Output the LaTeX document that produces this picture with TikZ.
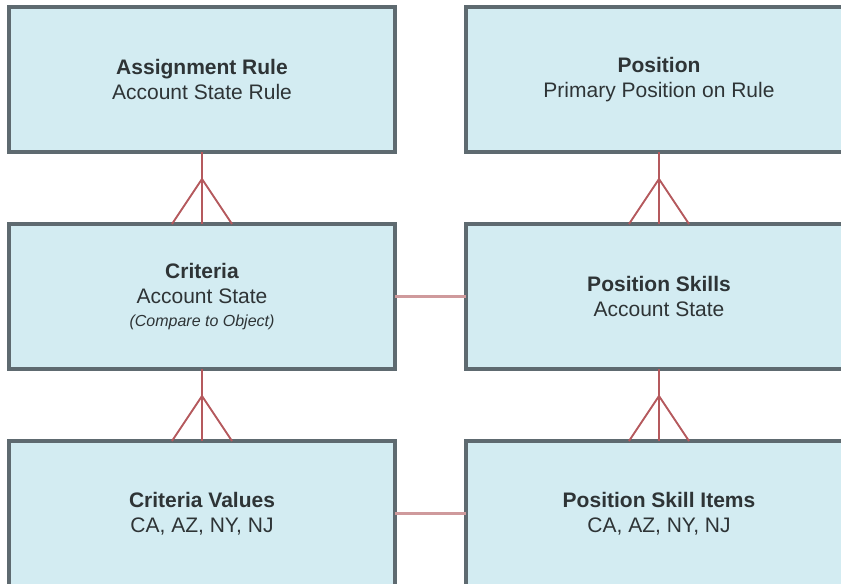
\documentclass[tikz,border=0pt]{standalone}
\usepackage{fontspec}
\setmainfont{Liberation Sans}
\definecolor{boxfill}{HTML}{D3ECF2}
\definecolor{boxline}{HTML}{5E6A70}
\definecolor{txt}{HTML}{2E3436}
\definecolor{relline}{HTML}{B5595D}
\definecolor{relsoft}{HTML}{CF9A9C}
\tikzset{
  entity/.style={draw=boxline, fill=boxfill, line width=2.4pt,
    minimum width=289.5pt, minimum height=108.75pt, inner sep=0pt, outer sep=0pt,
    align=center, text=txt, font=\fontsize{15.75}{18.75}\selectfont},
  relmain/.style={draw=relline, line width=2.2pt},
  crowline/.style={draw=relline, line width=1.4pt, line join=miter},
  relside/.style={draw=relsoft, line width=2.2pt},
}
\newcommand{\ttl}[1]{\textbf{#1}}
\newcommand{\smallit}[1]{{\fontsize{12}{17}\selectfont\itshape #1}}
\begin{document}
\begin{tikzpicture}[x=0.75pt,y=-0.75pt]
\useasboundingbox (0,0) rectangle (841,583);
\fill[white] (0,0) rectangle (841,583);
% entities
\node[entity] (rule) at (202,79.5) {\ttl{Assignment Rule}\\Account State Rule};
\node[entity] (pos) at (659,79.5) {\ttl{Position}\\Primary Position on Rule};
\node[entity] (crit) at (202,296.5) {\ttl{Criteria}\\Account State\\[-1pt]\smallit{(Compare to Object)}};
\node[entity] (pskill) at (659,296.5) {\ttl{Position Skills}\\Account State};
\node[entity] (cval) at (202,513.5) {\ttl{Criteria Values}\\CA, AZ, NY, NJ};
\node[entity] (psitem) at (659,513.5) {\ttl{Position Skill Items}\\CA, AZ, NY, NJ};
% one-to-many connectors (crow's foot at the lower entity)
\foreach \up/\low in {rule/crit, pos/pskill, crit/cval, pskill/psitem}{
  \draw[relmain] (\up.south) -- (\low.north);
  \draw[crowline] ([xshift=-22.5pt]\low.north) -- ([yshift=33.75pt]\low.north) -- ([xshift=22.5pt]\low.north);
}
% side connectors
\draw[relside] (crit.east) -- (pskill.west);
\draw[relside] (cval.east) -- (psitem.west);
\end{tikzpicture}
\end{document}
